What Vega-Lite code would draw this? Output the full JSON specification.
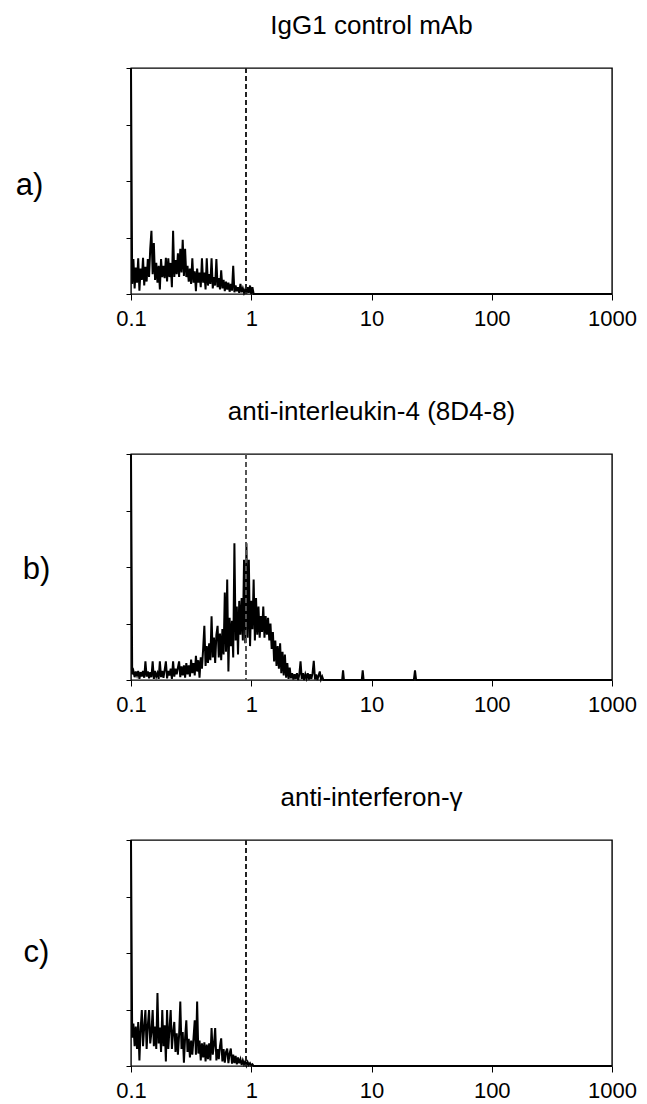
{
"$schema": "https://vega.github.io/schema/vega-lite/v6.json",
"padding": {"left": 14, "top": 12, "right": 5, "bottom": 5},
"background": "white",
"config": {
 "font": "Liberation Sans",
 "view": {"stroke": "black", "strokeWidth": 1.4},
 "axis": {"grid": false, "domain": false, "tickColor": "black", "labelColor": "black", "labelFont": "Liberation Sans", "labelFontSize": 22, "titleFont": "Liberation Sans", "titleColor": "black"},
 "title": {"fontSize": 26, "fontWeight": "normal", "font": "Liberation Sans", "color": "black", "anchor": "middle", "offset": 25}
},
"data": {"values": [
{"p":"a","x":0.1,"y":4},{"p":"a","x":0.1023,"y":0.18},{"p":"a","x":0.1047,"y":0.62},{"p":"a","x":0.1072,"y":0.1},{"p":"a","x":0.1096,"y":0.47},{"p":"a","x":0.1122,"y":0.2},{"p":"a","x":0.1148,"y":0.63},{"p":"a","x":0.1175,"y":0.06},{"p":"a","x":0.1202,"y":0.45},{"p":"a","x":0.123,"y":0.25},{"p":"a","x":0.1259,"y":0.64},{"p":"a","x":0.1288,"y":0.15},{"p":"a","x":0.1318,"y":0.48},{"p":"a","x":0.1349,"y":0.22},{"p":"a","x":0.138,"y":0.62},{"p":"a","x":0.1413,"y":0.3},{"p":"a","x":0.1445,"y":0.8},{"p":"a","x":0.1479,"y":1.12},{"p":"a","x":0.1514,"y":0.35},{"p":"a","x":0.1549,"y":0.9},{"p":"a","x":0.1585,"y":0.25},{"p":"a","x":0.1622,"y":0.55},{"p":"a","x":0.166,"y":0.2},{"p":"a","x":0.1698,"y":0.5},{"p":"a","x":0.1738,"y":0.08},{"p":"a","x":0.1778,"y":0.62},{"p":"a","x":0.182,"y":0.3},{"p":"a","x":0.1862,"y":0.5},{"p":"a","x":0.1905,"y":0.28},{"p":"a","x":0.195,"y":0.64},{"p":"a","x":0.1995,"y":0.22},{"p":"a","x":0.2042,"y":0.63},{"p":"a","x":0.2089,"y":0.3},{"p":"a","x":0.2138,"y":0.55},{"p":"a","x":0.2188,"y":0.12},{"p":"a","x":0.2239,"y":1.12},{"p":"a","x":0.2291,"y":0.3},{"p":"a","x":0.2344,"y":0.6},{"p":"a","x":0.2399,"y":0.35},{"p":"a","x":0.2455,"y":0.72},{"p":"a","x":0.2512,"y":0.3},{"p":"a","x":0.257,"y":0.8},{"p":"a","x":0.263,"y":0.38},{"p":"a","x":0.2692,"y":0.96},{"p":"a","x":0.2754,"y":0.32},{"p":"a","x":0.2818,"y":0.8},{"p":"a","x":0.2884,"y":0.3},{"p":"a","x":0.2951,"y":0.5},{"p":"a","x":0.302,"y":0.22},{"p":"a","x":0.309,"y":0.45},{"p":"a","x":0.3162,"y":0.18},{"p":"a","x":0.3236,"y":0.63},{"p":"a","x":0.3311,"y":0.2},{"p":"a","x":0.3388,"y":0.4},{"p":"a","x":0.3467,"y":0.05},{"p":"a","x":0.3548,"y":0.45},{"p":"a","x":0.3631,"y":0.2},{"p":"a","x":0.3715,"y":0.38},{"p":"a","x":0.3802,"y":0.12},{"p":"a","x":0.389,"y":0.63},{"p":"a","x":0.3981,"y":0.2},{"p":"a","x":0.4074,"y":0.38},{"p":"a","x":0.4169,"y":0.08},{"p":"a","x":0.4266,"y":0.63},{"p":"a","x":0.4365,"y":0.15},{"p":"a","x":0.4467,"y":0.35},{"p":"a","x":0.4571,"y":0.18},{"p":"a","x":0.4677,"y":0.63},{"p":"a","x":0.4786,"y":0.1},{"p":"a","x":0.4898,"y":0.3},{"p":"a","x":0.5012,"y":0.15},{"p":"a","x":0.5129,"y":0.62},{"p":"a","x":0.5248,"y":0.12},{"p":"a","x":0.537,"y":0.28},{"p":"a","x":0.5495,"y":0.08},{"p":"a","x":0.5623,"y":0.42},{"p":"a","x":0.5754,"y":0.1},{"p":"a","x":0.5888,"y":0.25},{"p":"a","x":0.6026,"y":0.05},{"p":"a","x":0.6166,"y":0.22},{"p":"a","x":0.631,"y":0.08},{"p":"a","x":0.6457,"y":0.2},{"p":"a","x":0.6607,"y":0.04},{"p":"a","x":0.6761,"y":0.18},{"p":"a","x":0.6918,"y":0.06},{"p":"a","x":0.7079,"y":0.5},{"p":"a","x":0.7244,"y":0.03},{"p":"a","x":0.7413,"y":0.15},{"p":"a","x":0.7586,"y":0.05},{"p":"a","x":0.7762,"y":0.12},{"p":"a","x":0.7943,"y":0.02},{"p":"a","x":0.8128,"y":0.18},{"p":"a","x":0.8318,"y":0.03},{"p":"a","x":0.8511,"y":0.1},{"p":"a","x":0.871,"y":0.02},{"p":"a","x":0.8913,"y":0.08},{"p":"a","x":0.912,"y":0.01},{"p":"a","x":0.9333,"y":0.12},{"p":"a","x":0.955,"y":0.02},{"p":"a","x":0.9772,"y":0.15},{"p":"a","x":1,"y":0},{"p":"a","x":1.023,"y":0.12},{"p":"a","x":1.047,"y":0},{"p":"a","x":1000,"y":0},
{"p":"b","x":0.1,"y":4},{"p":"b","x":0.1023,"y":0.1},{"p":"b","x":0.1047,"y":0.16},{"p":"b","x":0.1072,"y":0.05},{"p":"b","x":0.1096,"y":0.15},{"p":"b","x":0.1122,"y":0.08},{"p":"b","x":0.1148,"y":0.16},{"p":"b","x":0.1175,"y":0.02},{"p":"b","x":0.1202,"y":0.14},{"p":"b","x":0.123,"y":0.06},{"p":"b","x":0.1259,"y":0.16},{"p":"b","x":0.1288,"y":0.04},{"p":"b","x":0.1318,"y":0.33},{"p":"b","x":0.1349,"y":0.06},{"p":"b","x":0.138,"y":0.15},{"p":"b","x":0.1413,"y":0.03},{"p":"b","x":0.1445,"y":0.14},{"p":"b","x":0.1479,"y":0.05},{"p":"b","x":0.1514,"y":0.33},{"p":"b","x":0.1549,"y":0.02},{"p":"b","x":0.1585,"y":0.16},{"p":"b","x":0.1622,"y":0.06},{"p":"b","x":0.166,"y":0.12},{"p":"b","x":0.1698,"y":0.02},{"p":"b","x":0.1738,"y":0.33},{"p":"b","x":0.1778,"y":0.05},{"p":"b","x":0.182,"y":0.16},{"p":"b","x":0.1862,"y":0.04},{"p":"b","x":0.1905,"y":0.18},{"p":"b","x":0.195,"y":0.33},{"p":"b","x":0.1995,"y":0.03},{"p":"b","x":0.2042,"y":0.16},{"p":"b","x":0.2089,"y":0.08},{"p":"b","x":0.2138,"y":0.2},{"p":"b","x":0.2188,"y":0.02},{"p":"b","x":0.2239,"y":0.33},{"p":"b","x":0.2291,"y":0.06},{"p":"b","x":0.2344,"y":0.2},{"p":"b","x":0.2399,"y":0.1},{"p":"b","x":0.2455,"y":0.22},{"p":"b","x":0.2512,"y":0.33},{"p":"b","x":0.257,"y":0.05},{"p":"b","x":0.263,"y":0.24},{"p":"b","x":0.2692,"y":0.08},{"p":"b","x":0.2754,"y":0.26},{"p":"b","x":0.2818,"y":0.04},{"p":"b","x":0.2884,"y":0.3},{"p":"b","x":0.2951,"y":0.1},{"p":"b","x":0.302,"y":0.26},{"p":"b","x":0.309,"y":0.06},{"p":"b","x":0.3162,"y":0.36},{"p":"b","x":0.3236,"y":0.12},{"p":"b","x":0.3311,"y":0.3},{"p":"b","x":0.3388,"y":0.08},{"p":"b","x":0.3467,"y":0.43},{"p":"b","x":0.3548,"y":0.15},{"p":"b","x":0.3631,"y":0.35},{"p":"b","x":0.3715,"y":0.04},{"p":"b","x":0.3802,"y":0.4},{"p":"b","x":0.389,"y":0.2},{"p":"b","x":0.3981,"y":0.55},{"p":"b","x":0.4074,"y":0.96},{"p":"b","x":0.4169,"y":0.25},{"p":"b","x":0.4266,"y":0.6},{"p":"b","x":0.4365,"y":0.3},{"p":"b","x":0.4467,"y":0.65},{"p":"b","x":0.4571,"y":0.35},{"p":"b","x":0.4677,"y":1.13},{"p":"b","x":0.4786,"y":0.4},{"p":"b","x":0.4898,"y":0.75},{"p":"b","x":0.5012,"y":0.3},{"p":"b","x":0.5129,"y":0.8},{"p":"b","x":0.5248,"y":0.96},{"p":"b","x":0.537,"y":0.4},{"p":"b","x":0.5495,"y":0.82},{"p":"b","x":0.5623,"y":0.35},{"p":"b","x":0.5754,"y":0.9},{"p":"b","x":0.5888,"y":0.45},{"p":"b","x":0.6026,"y":1.55},{"p":"b","x":0.6166,"y":0.5},{"p":"b","x":0.631,"y":1.78},{"p":"b","x":0.6457,"y":0.15},{"p":"b","x":0.6607,"y":1.1},{"p":"b","x":0.6761,"y":0.6},{"p":"b","x":0.6918,"y":1.05},{"p":"b","x":0.7079,"y":0.4},{"p":"b","x":0.7244,"y":2.42},{"p":"b","x":0.7413,"y":0.7},{"p":"b","x":0.7586,"y":1.3},{"p":"b","x":0.7762,"y":0.45},{"p":"b","x":0.7943,"y":1.4},{"p":"b","x":0.8128,"y":0.8},{"p":"b","x":0.8318,"y":1.45},{"p":"b","x":0.8511,"y":0.7},{"p":"b","x":0.871,"y":2.13},{"p":"b","x":0.8913,"y":0.65},{"p":"b","x":0.912,"y":2.42},{"p":"b","x":0.9333,"y":0.75},{"p":"b","x":0.955,"y":2.13},{"p":"b","x":0.9772,"y":0.6},{"p":"b","x":1,"y":1.4},{"p":"b","x":1.023,"y":0.9},{"p":"b","x":1.047,"y":1.78},{"p":"b","x":1.072,"y":0.7},{"p":"b","x":1.096,"y":1.45},{"p":"b","x":1.122,"y":0.8},{"p":"b","x":1.148,"y":1.3},{"p":"b","x":1.175,"y":0.75},{"p":"b","x":1.202,"y":1.13},{"p":"b","x":1.23,"y":0.85},{"p":"b","x":1.259,"y":1.3},{"p":"b","x":1.288,"y":0.75},{"p":"b","x":1.318,"y":1.13},{"p":"b","x":1.349,"y":0.8},{"p":"b","x":1.38,"y":1.1},{"p":"b","x":1.413,"y":0.7},{"p":"b","x":1.445,"y":1.0},{"p":"b","x":1.479,"y":0.55},{"p":"b","x":1.514,"y":0.85},{"p":"b","x":1.549,"y":0.33},{"p":"b","x":1.585,"y":0.7},{"p":"b","x":1.622,"y":0.25},{"p":"b","x":1.66,"y":0.6},{"p":"b","x":1.698,"y":0.2},{"p":"b","x":1.738,"y":0.65},{"p":"b","x":1.778,"y":0.12},{"p":"b","x":1.82,"y":0.5},{"p":"b","x":1.862,"y":0.08},{"p":"b","x":1.905,"y":0.45},{"p":"b","x":1.95,"y":0.04},{"p":"b","x":1.995,"y":0.3},{"p":"b","x":2.042,"y":0.02},{"p":"b","x":2.089,"y":0.22},{"p":"b","x":2.138,"y":0.03},{"p":"b","x":2.188,"y":0.12},{"p":"b","x":2.239,"y":0.01},{"p":"b","x":2.291,"y":0.1},{"p":"b","x":2.344,"y":0.02},{"p":"b","x":2.399,"y":0.12},{"p":"b","x":2.455,"y":0},{"p":"b","x":2.512,"y":0.1},{"p":"b","x":2.57,"y":0.33},{"p":"b","x":2.63,"y":0.02},{"p":"b","x":2.692,"y":0.12},{"p":"b","x":2.754,"y":0},{"p":"b","x":2.818,"y":0.1},{"p":"b","x":2.884,"y":0.03},{"p":"b","x":2.951,"y":0.12},{"p":"b","x":3.02,"y":0.01},{"p":"b","x":3.09,"y":0.1},{"p":"b","x":3.162,"y":0.02},{"p":"b","x":3.236,"y":0.12},{"p":"b","x":3.311,"y":0.34},{"p":"b","x":3.388,"y":0.01},{"p":"b","x":3.467,"y":0.1},{"p":"b","x":3.548,"y":0},{"p":"b","x":3.631,"y":0.08},{"p":"b","x":3.715,"y":0.15},{"p":"b","x":3.802,"y":0.01},{"p":"b","x":3.89,"y":0.06},{"p":"b","x":3.981,"y":0},{"p":"b","x":5.7,"y":0},{"p":"b","x":5.8,"y":0.17},{"p":"b","x":5.9,"y":0},{"p":"b","x":8.3,"y":0},{"p":"b","x":8.45,"y":0.17},{"p":"b","x":8.6,"y":0},{"p":"b","x":22.5,"y":0},{"p":"b","x":23,"y":0.17},{"p":"b","x":23.5,"y":0},{"p":"b","x":1000,"y":0},
{"p":"c","x":0.1,"y":4},{"p":"c","x":0.1023,"y":0.5},{"p":"c","x":0.1047,"y":0.75},{"p":"c","x":0.1072,"y":0.35},{"p":"c","x":0.1096,"y":0.7},{"p":"c","x":0.1122,"y":0.3},{"p":"c","x":0.1148,"y":0.78},{"p":"c","x":0.1175,"y":0.1},{"p":"c","x":0.1202,"y":0.65},{"p":"c","x":0.123,"y":0.99},{"p":"c","x":0.1259,"y":0.35},{"p":"c","x":0.1288,"y":0.7},{"p":"c","x":0.1318,"y":0.99},{"p":"c","x":0.1349,"y":0.3},{"p":"c","x":0.138,"y":0.72},{"p":"c","x":0.1413,"y":0.99},{"p":"c","x":0.1445,"y":0.4},{"p":"c","x":0.1479,"y":0.6},{"p":"c","x":0.1514,"y":0.99},{"p":"c","x":0.1549,"y":0.35},{"p":"c","x":0.1585,"y":0.7},{"p":"c","x":0.1622,"y":0.3},{"p":"c","x":0.166,"y":1.29},{"p":"c","x":0.1698,"y":0.4},{"p":"c","x":0.1738,"y":0.68},{"p":"c","x":0.1778,"y":0.25},{"p":"c","x":0.182,"y":0.99},{"p":"c","x":0.1862,"y":0.35},{"p":"c","x":0.1905,"y":0.72},{"p":"c","x":0.195,"y":0.08},{"p":"c","x":0.1995,"y":0.99},{"p":"c","x":0.2042,"y":0.3},{"p":"c","x":0.2089,"y":0.65},{"p":"c","x":0.2138,"y":0.99},{"p":"c","x":0.2188,"y":0.3},{"p":"c","x":0.2239,"y":0.6},{"p":"c","x":0.2291,"y":0.78},{"p":"c","x":0.2344,"y":0.25},{"p":"c","x":0.2399,"y":0.58},{"p":"c","x":0.2455,"y":0.2},{"p":"c","x":0.2512,"y":0.55},{"p":"c","x":0.257,"y":1.14},{"p":"c","x":0.263,"y":0.3},{"p":"c","x":0.2692,"y":0.6},{"p":"c","x":0.2754,"y":0.06},{"p":"c","x":0.2818,"y":0.5},{"p":"c","x":0.2884,"y":0.81},{"p":"c","x":0.2951,"y":0.25},{"p":"c","x":0.302,"y":0.48},{"p":"c","x":0.309,"y":0.15},{"p":"c","x":0.3162,"y":0.45},{"p":"c","x":0.3236,"y":0.2},{"p":"c","x":0.3311,"y":0.5},{"p":"c","x":0.3388,"y":0.81},{"p":"c","x":0.3467,"y":0.2},{"p":"c","x":0.3548,"y":1.14},{"p":"c","x":0.3631,"y":0.22},{"p":"c","x":0.3715,"y":0.45},{"p":"c","x":0.3802,"y":0.1},{"p":"c","x":0.389,"y":0.4},{"p":"c","x":0.3981,"y":0.15},{"p":"c","x":0.4074,"y":0.42},{"p":"c","x":0.4169,"y":0.08},{"p":"c","x":0.4266,"y":0.38},{"p":"c","x":0.4365,"y":0.12},{"p":"c","x":0.4467,"y":0.4},{"p":"c","x":0.4571,"y":0.1},{"p":"c","x":0.4677,"y":0.67},{"p":"c","x":0.4786,"y":0.2},{"p":"c","x":0.4898,"y":0.38},{"p":"c","x":0.5012,"y":0.67},{"p":"c","x":0.5129,"y":0.1},{"p":"c","x":0.5248,"y":0.3},{"p":"c","x":0.537,"y":0.12},{"p":"c","x":0.5495,"y":0.35},{"p":"c","x":0.5623,"y":0.49},{"p":"c","x":0.5754,"y":0.08},{"p":"c","x":0.5888,"y":0.3},{"p":"c","x":0.6026,"y":0.06},{"p":"c","x":0.6166,"y":0.25},{"p":"c","x":0.631,"y":0.31},{"p":"c","x":0.6457,"y":0.05},{"p":"c","x":0.6607,"y":0.22},{"p":"c","x":0.6761,"y":0.31},{"p":"c","x":0.6918,"y":0.04},{"p":"c","x":0.7079,"y":0.2},{"p":"c","x":0.7244,"y":0.05},{"p":"c","x":0.7413,"y":0.18},{"p":"c","x":0.7586,"y":0.03},{"p":"c","x":0.7762,"y":0.15},{"p":"c","x":0.7943,"y":0.05},{"p":"c","x":0.8128,"y":0.12},{"p":"c","x":0.8318,"y":0.02},{"p":"c","x":0.8511,"y":0.1},{"p":"c","x":0.871,"y":0.03},{"p":"c","x":0.8913,"y":0.08},{"p":"c","x":0.912,"y":0.01},{"p":"c","x":0.9333,"y":0.07},{"p":"c","x":0.955,"y":0.02},{"p":"c","x":0.9772,"y":0.05},{"p":"c","x":1,"y":0.01},{"p":"c","x":1.023,"y":0.03},{"p":"c","x":1.047,"y":0},{"p":"c","x":1000,"y":0}
]},
"spacing": 68,
"vconcat": [
 {"width": 481, "height": 226, "title": "IgG1 control mAb",
  "transform": [{"filter": "datum.p == 'a'"}],
  "layer": [
   {"mark": {"type": "line", "color": "black", "strokeWidth": 2},
    "encoding": {
     "x": {"field": "x", "type": "quantitative", "scale": {"type": "log", "domain": [0.1, 1000]}, "axis": {"values": [0.1, 1, 10, 100, 1000], "format": "~g", "title": null, "tickSize": 6, "labelPadding": 8, "labelFlush": false}},
     "y": {"field": "y", "type": "quantitative", "scale": {"domain": [0, 4]}, "axis": {"values": [0, 1, 2, 3, 4], "labels": false, "tickSize": 5, "title": "a)", "titleAngle": 0, "titleX": -102, "titleY": 117, "titleFontSize": 31, "titleFontWeight": "normal", "titleAlign": "center", "titleBaseline": "middle"}}}},
   {"mark": {"type": "rule", "color": "#222", "strokeDash": [5, 3], "strokeWidth": 1}, "encoding": {"x": {"datum": 0.9}}}
  ]},
 {"width": 481, "height": 226, "title": "anti-interleukin-4 (8D4-8)",
  "transform": [{"filter": "datum.p == 'b'"}],
  "layer": [
   {"mark": {"type": "line", "color": "black", "strokeWidth": 2},
    "encoding": {
     "x": {"field": "x", "type": "quantitative", "scale": {"type": "log", "domain": [0.1, 1000]}, "axis": {"values": [0.1, 1, 10, 100, 1000], "format": "~g", "title": null, "tickSize": 6, "labelPadding": 8, "labelFlush": false}},
     "y": {"field": "y", "type": "quantitative", "scale": {"domain": [0, 4]}, "axis": {"values": [0, 1, 2, 3, 4], "labels": false, "tickSize": 5, "title": "b)", "titleAngle": 0, "titleX": -95, "titleY": 115, "titleFontSize": 31, "titleFontWeight": "normal", "titleAlign": "center", "titleBaseline": "middle"}}}},
   {"mark": {"type": "rule", "color": "#555", "strokeDash": [5, 3], "strokeWidth": 1}, "encoding": {"x": {"datum": 0.9}}}
  ]},
 {"width": 481, "height": 226, "title": "anti-interferon-γ",
  "transform": [{"filter": "datum.p == 'c'"}],
  "layer": [
   {"mark": {"type": "line", "color": "black", "strokeWidth": 2},
    "encoding": {
     "x": {"field": "x", "type": "quantitative", "scale": {"type": "log", "domain": [0.1, 1000]}, "axis": {"values": [0.1, 1, 10, 100, 1000], "format": "~g", "title": null, "tickSize": 6, "labelPadding": 8, "labelFlush": false}},
     "y": {"field": "y", "type": "quantitative", "scale": {"domain": [0, 4]}, "axis": {"values": [0, 1, 2, 3, 4], "labels": false, "tickSize": 5, "title": "c)", "titleAngle": 0, "titleX": -95, "titleY": 112, "titleFontSize": 31, "titleFontWeight": "normal", "titleAlign": "center", "titleBaseline": "middle"}}}},
   {"mark": {"type": "rule", "color": "#222", "strokeDash": [5, 3], "strokeWidth": 1}, "encoding": {"x": {"datum": 0.9}}}
  ]}
]
}
